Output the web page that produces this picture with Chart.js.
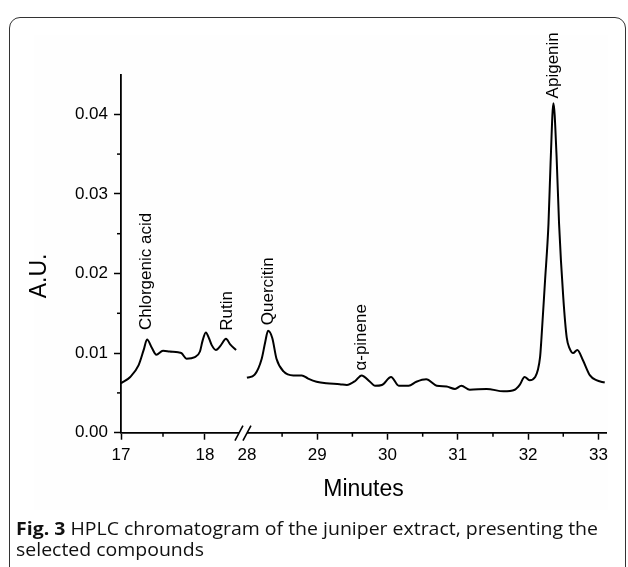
<!DOCTYPE html>
<html>
<head>
<meta charset="utf-8">
<script src="https://cdn.jsdelivr.net/npm/chart.js@4.4.0/dist/chart.umd.min.js"></script>
<style>
  html, body { margin: 0; padding: 0; background: #fff; }
  #page { position: relative; width: 628px; height: 567px; overflow: hidden; }
  #frame { position: absolute; left: 9px; top: 17px; width: 615px; height: 600px; border: 1.5px solid #333; border-radius: 11px; }
  #plotbg { position: absolute; left: 34px; top: 35px; width: 574px; height: 475px; background: #fefefe; }
  #chart { position: absolute; left: 0; top: 0; }
  #caption { position: absolute; left: 16px; top: 518px; font-family: 'Open Sans', sans-serif; font-size: 17.5px; line-height: 21px; color: #111; white-space: nowrap; transform-origin: 0 0; }
  #caption b { font-weight: 700; }
</style>
</head>
<body>
<div id="page">
  <div id="frame"></div>
  <div id="plotbg"></div>
  <canvas id="chart" width="628" height="567"></canvas>
  <div id="caption"><span id="cap1"><b>Fig. 3</b> HPLC chromatogram of the juniper extract, presenting the</span><br>selected compounds</div>
</div>
<script>
// retention time (min) / absorbance
var leftTimes = [17.00, 17.11, 17.21, 17.27, 17.31, 17.37, 17.42, 17.50, 17.58, 17.68, 17.72, 17.78, 17.88, 17.94, 17.97, 18.01, 18.05, 18.08, 18.13, 18.19, 18.25, 18.30, 18.37];
var leftAU = [0.0062, 0.0070, 0.0085, 0.0104, 0.0117, 0.0106, 0.0098, 0.0103, 0.0102, 0.0101, 0.0100, 0.0093, 0.0095, 0.0102, 0.0115, 0.0126, 0.0118, 0.0110, 0.0104, 0.0110, 0.0118, 0.0111, 0.0104];

var rightTimes = [28.00, 28.11, 28.21, 28.26, 28.30, 28.36, 28.42, 28.52, 28.66, 28.78, 28.87, 28.99, 29.13, 29.32, 29.42, 29.54, 29.63, 29.75, 29.82, 29.92, 30.05, 30.16, 30.30, 30.41, 30.55, 30.70, 30.84, 30.96, 31.05, 31.17, 31.41, 31.65, 31.81, 31.88, 31.95, 32.02, 32.10, 32.17, 32.19, 32.24, 32.29, 32.32, 32.36, 32.405, 32.44, 32.50, 32.55, 32.59, 32.64, 32.70, 32.78, 32.88, 32.97, 33.09];
var rightAU = [0.0069, 0.0073, 0.0093, 0.0114, 0.0128, 0.0119, 0.0093, 0.0077, 0.0072, 0.0072, 0.0068, 0.0064, 0.0062, 0.0061, 0.0060, 0.0065, 0.0072, 0.0064, 0.0059, 0.0060, 0.0070, 0.0059, 0.0059, 0.0064, 0.0067, 0.0059, 0.0058, 0.0055, 0.0059, 0.0054, 0.0055, 0.0052, 0.0054, 0.0060, 0.0070, 0.0066, 0.0070, 0.0095, 0.0119, 0.0190, 0.0263, 0.0340, 0.0414, 0.0347, 0.0263, 0.0170, 0.0119, 0.0106, 0.0100, 0.0104, 0.0091, 0.0072, 0.0066, 0.0063];

var majorMinutes = [17, 18, 28, 29, 30, 31, 32, 33];
var minorMinutes = [17.5, 28.5, 29.5, 30.5, 31.5, 32.5];
var yMajor = [0, 0.01, 0.02, 0.03, 0.04];
var yMinor = [0.005, 0.015, 0.025, 0.035];

var peakNames = ['Chlorgenic acid', 'Rutin', 'Quercitin', '\u03b1-pinene', 'Apigenin'];
var peakTimes = [17.30, 18.26, 28.30, 29.63, 32.36];
var peakTextAt = [0.0129, 0.0128, 0.0135, 0.0078, 0.0420];

// broken time axis: 17-18.4 min is stretched a bit, then 28-33 min
var LEFT_STRETCH = 1.195;
var BREAK_AT = 1.792;
var AXIS_END = 6.9;
function toAxis(t) {
  return t < 25 ? (t - 17) * LEFT_STRETCH : BREAK_AT + (t - 28);
}
function near(a, b) { return Math.abs(a - b) < 1e-6; }

var FONT = '"Liberation Sans", Arial, sans-serif';

var decorations = {
  id: 'decorations',
  afterDraw: function (chart) {
    var ctx = chart.ctx;
    var xs = chart.scales.x, ys = chart.scales.y;
    var axisY = xs.top, axisX = ys.right;
    ctx.save();
    ctx.strokeStyle = '#000';
    ctx.lineWidth = 1.5;

    // short minor ticks
    minorMinutes.forEach(function (m) {
      var px = xs.getPixelForValue(toAxis(m));
      ctx.beginPath(); ctx.moveTo(px, axisY); ctx.lineTo(px, axisY + 4); ctx.stroke();
    });
    yMinor.forEach(function (v) {
      var py = ys.getPixelForValue(v);
      ctx.beginPath(); ctx.moveTo(axisX, py); ctx.lineTo(axisX - 4, py); ctx.stroke();
    });

    // axis break //
    var c = xs.getPixelForValue(BREAK_AT) - 4;
    ctx.clearRect(c - 4, axisY - 3, 8, 6);
    ctx.lineWidth = 1.6;
    ctx.beginPath();
    ctx.moveTo(c - 8, axisY + 8); ctx.lineTo(c, axisY - 7);
    ctx.moveTo(c, axisY + 8); ctx.lineTo(c + 8, axisY - 7);
    ctx.stroke();

    // peak names
    ctx.fillStyle = '#000';
    ctx.font = '17px ' + FONT;
    ctx.textAlign = 'left';
    ctx.textBaseline = 'middle';
    peakNames.forEach(function (name, i) {
      ctx.save();
      ctx.translate(xs.getPixelForValue(toAxis(peakTimes[i])), ys.getPixelForValue(peakTextAt[i]));
      ctx.rotate(-Math.PI / 2);
      ctx.fillText(name, 0, 0);
      ctx.restore();
    });

    // y axis title
    ctx.font = '23px ' + FONT;
    ctx.textAlign = 'center';
    ctx.save();
    ctx.translate(40, ys.getPixelForValue(0.0197));
    ctx.rotate(-Math.PI / 2);
    ctx.fillText('A.U.', 0, 0);
    ctx.restore();
    ctx.restore();
  }
};

new Chart(document.getElementById('chart'), {
  type: 'line',
  data: {
    datasets: [{
      data: leftTimes.map(function (t, i) { return { x: toAxis(t), y: leftAU[i] }; })
    }, {
      data: rightTimes.map(function (t, i) { return { x: toAxis(t), y: rightAU[i] }; })
    }]
  },
  options: {
    responsive: false,
    animation: false,
    devicePixelRatio: 1,
    layout: { padding: { left: 0, top: 74.5, right: 22, bottom: 59.3 } },
    elements: {
      line: { borderColor: '#000', borderWidth: 2, cubicInterpolationMode: 'monotone', fill: false },
      point: { radius: 0 }
    },
    scales: {
      x: {
        type: 'linear',
        min: 0,
        max: AXIS_END,
        afterBuildTicks: function (scale) {
          scale.ticks = majorMinutes.map(function (m) { return { value: toAxis(m) }; });
        },
        afterFit: function (scale) { scale.height = 75; },
        ticks: {
          autoSkip: false,
          maxRotation: 0,
          padding: 5,
          color: '#000',
          font: { family: FONT, size: 17 },
          callback: function (value) {
            for (var i = 0; i < majorMinutes.length; i++) {
              if (near(toAxis(majorMinutes[i]), value)) return String(majorMinutes[i]);
            }
            return '';
          }
        },
        grid: {
          drawOnChartArea: false,
          tickLength: 7,
          tickWidth: 1.5,
          tickColor: function (c) {
            return c.tick && near(c.tick.value, BREAK_AT) ? 'rgba(0,0,0,0)' : '#000';
          }
        },
        border: { display: true, color: '#000', width: 1.8 },
        title: {
          display: true,
          text: 'Minutes',
          color: '#000',
          font: { family: FONT, size: 23 },
          padding: { top: 0, bottom: 4 }
        }
      },
      y: {
        min: 0,
        max: 0.045,
        afterBuildTicks: function (scale) {
          scale.ticks = yMajor.map(function (v) { return { value: v }; });
        },
        afterFit: function (scale) { scale.width = 121; },
        ticks: {
          padding: 6,
          color: '#000',
          font: { family: FONT, size: 17 },
          callback: function (value) { return value.toFixed(2); }
        },
        grid: { drawOnChartArea: false, tickLength: 7, tickWidth: 1.5, tickColor: '#000' },
        border: { display: true, color: '#000', width: 1.8 }
      }
    },
    plugins: {
      legend: { display: false },
      tooltip: { enabled: false }
    }
  },
  plugins: [decorations]
});

// squeeze the caption to the width it has in the figure
var cap = document.getElementById('caption');
var w = document.getElementById('cap1').getBoundingClientRect().width;
cap.style.transform = 'scaleX(' + (582 / w) + ')';
</script>
</body>
</html>
